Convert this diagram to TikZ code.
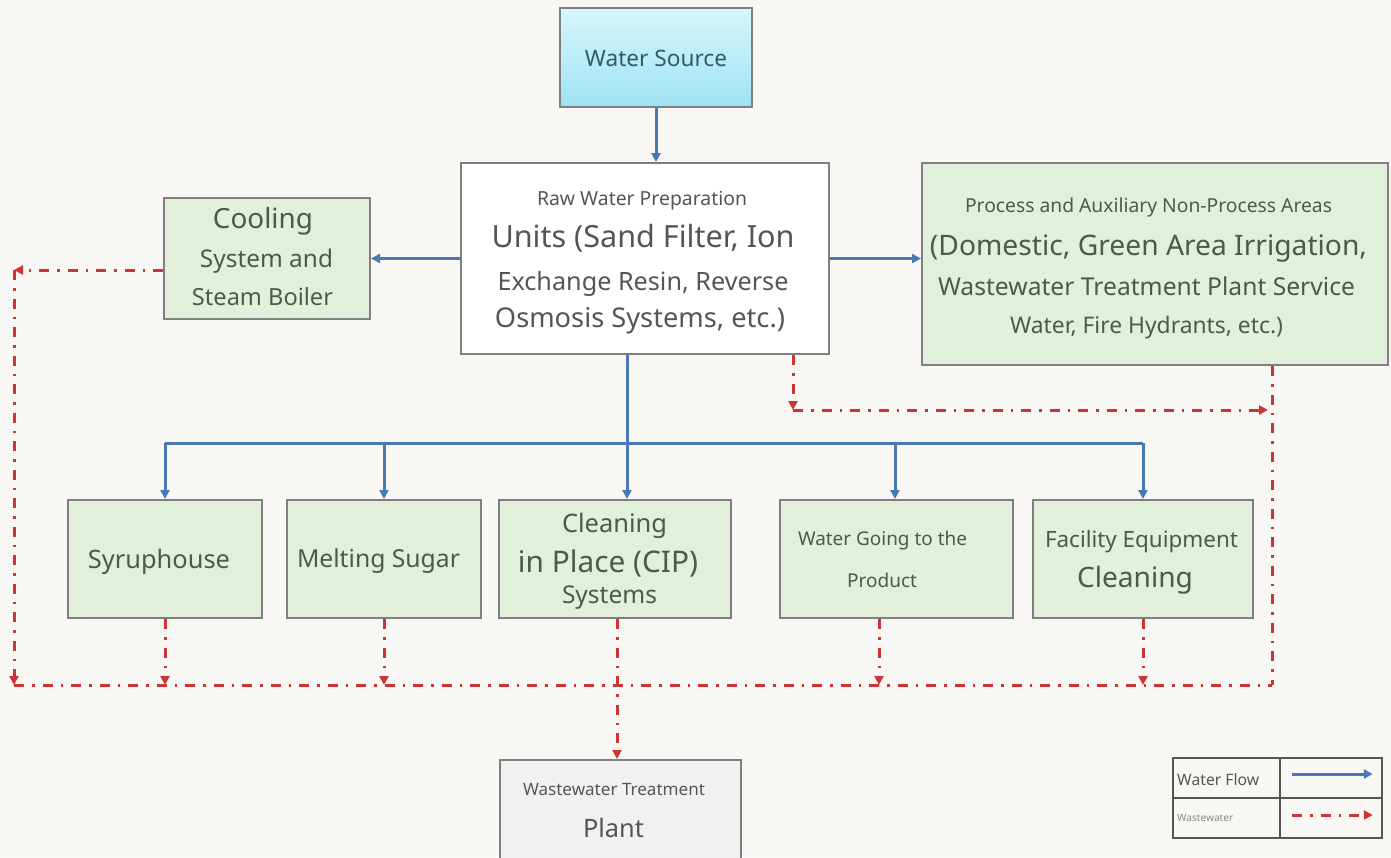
\documentclass[tikz,border=0pt]{standalone}
\usepackage{fontspec}
\setmainfont{Noto Sans}
\usetikzlibrary{arrows.meta}
\definecolor{bg}{HTML}{F8F7F4}
\definecolor{boxgreen}{HTML}{E2EFDA}
\definecolor{edge}{HTML}{7F7F7F}
\definecolor{flowblue}{HTML}{4A78B5}
\definecolor{wastered}{HTML}{CC3535}
\definecolor{txtgreen}{HTML}{4B5B49}
\definecolor{txtgray}{HTML}{555555}
\definecolor{txtlight}{HTML}{8A8A8A}
\definecolor{txtteal}{HTML}{2F5C6B}
\definecolor{srctop}{HTML}{D6F6FC}
\definecolor{srcbot}{HTML}{9FE2F4}
\definecolor{plantfill}{HTML}{F1F1F1}
\newcommand\fw[2]{\resizebox{#1pt}{!}{#2}}
\begin{document}
\begin{tikzpicture}[x=1pt,y=-1pt,
 box/.style={draw=edge, line width=2pt, inner sep=0pt},
 gbox/.style={box, fill=boxgreen},
 txt/.style={anchor=base, inner sep=0pt, text=txtgreen},
 flowline/.style={draw=flowblue, line width=3pt},
 flow/.style={flowline, -{Triangle[length=9pt,width=9pt]}},
 waste/.style={draw=wastered, line width=3pt, dash pattern=on 10pt off 8pt on 2.5pt off 8pt},
 wastearrow/.style={waste, -{Triangle[length=9pt,width=9pt]}},
 legcell/.style={draw=txtgray, line width=1.5pt, inner sep=0pt},
]
\useasboundingbox (0,0) rectangle (1391,857);
\fill[bg] (0,0) rectangle (1391,857);

% boxes
\node[box, top color=srctop, bottom color=srcbot, minimum width=192pt, minimum height=99pt] (src) at (656,57.5) {};
\node[box, fill=white, minimum width=368pt, minimum height=191pt] (raw) at (645,258.5) {};
\node[gbox, minimum width=206pt, minimum height=121pt] (cool) at (267,258.5) {};
\node[gbox, minimum width=466pt, minimum height=202pt] (proc) at (1155,264) {};
\node[gbox, minimum width=194pt, minimum height=118pt] (syr) at (165,559) {};
\node[gbox, minimum width=194pt, minimum height=118pt] (melt) at (384,559) {};
\node[gbox, minimum width=232pt, minimum height=118pt] (cip) at (615,559) {};
\node[gbox, minimum width=233pt, minimum height=118pt] (wgo) at (896.5,559) {};
\node[gbox, minimum width=220pt, minimum height=118pt] (fac) at (1143,559) {};
\node[box, fill=plantfill, minimum width=241pt, minimum height=110pt] (wwtp) at (620.5,815) {};

% texts
\node[txt, text=txtteal] (tsrc) at (656,66) {\fw{142}{Water Source}};
\node[txt, text=txtgray] (traw1) at (642,205) {\fw{210}{Raw Water Preparation}};
\node[txt, text=txtgray] (traw2) at (643,247) {\fw{303}{Units (Sand Filter, Ion}};
\node[txt, text=txtgray] (traw3) at (643,290) {\fw{291}{Exchange Resin, Reverse}};
\node[txt, text=txtgray] (traw4) at (640,327) {\fw{290}{Osmosis Systems, etc.)}};
\node[txt] (tcool1) at (263,228) {\fw{100}{Cooling}};
\node[txt] (tcool2) at (266.5,267) {\fw{133}{System and}};
\node[txt] (tcool3) at (262.5,305) {\fw{141}{Steam Boiler}};
\node[txt] (tproc1) at (1148.5,212) {\fw{367}{Process and Auxiliary Non-Process Areas}};
\node[txt] (tproc2) at (1148.5,255) {\fw{437}{(Domestic, Green Area Irrigation,}};
\node[txt] (tproc3) at (1146.5,295) {\fw{417}{Wastewater Treatment Plant Service}};
\node[txt] (tproc4) at (1146.5,333) {\fw{273}{Water, Fire Hydrants, etc.)}};
\node[txt] (tsyr) at (159,568) {\fw{142}{Syruphouse}};
\node[txt] (tmelt) at (378.5,567) {\fw{163}{Melting Sugar}};
\node[txt] (tcip1) at (614.5,532) {\fw{105}{Cleaning}};
\node[txt] (tcip2) at (608,572) {\fw{180}{in Place (CIP)}};
\node[txt] (tcip3) at (609.5,603) {\fw{95}{Systems}};
\node[txt] (twgo1) at (882.5,545) {\fw{169}{Water Going to the}};
\node[txt] (twgo2) at (882,587) {\fw{70}{Product}};
\node[txt] (tfac1) at (1141.5,547) {\fw{193}{Facility Equipment}};
\node[txt] (tfac2) at (1135,587) {\fw{116}{Cleaning}};
\node[txt, text=txtgray] (tww1) at (614,795) {\fw{182}{Wastewater Treatment}};
\node[txt, text=txtgray] (tww2) at (613.5,837) {\fw{61}{Plant}};

% water flow
\draw[flow] (src.south) -- (src.south |- raw.north);
\draw[flow] (raw.west) -- (cool.east);
\draw[flow] (raw.east) -- (raw.east -| proc.west);
\coordinate (bus) at (627,443);
\coordinate (wgodrop) at (895,443);
\draw[flowline] (bus |- raw.south) -- (bus);
\draw[flowline] (syr.north |- bus) -- (fac.north |- bus);
\draw[flow] (syr.north |- bus) -- (syr.north);
\draw[flow] (melt.north |- bus) -- (melt.north);
\draw[flow] (bus) -- (bus |- cip.north);
\draw[flow] (wgodrop) -- (wgodrop |- wgo.north);
\draw[flow] (fac.north |- bus) -- (fac.north);

% wastewater
\coordinate (lc) at (14,270);
\coordinate (bl) at (14,685);
\coordinate (br) at (1272,685);
\coordinate (rb) at (793,410);
\coordinate (rbe) at (1268,410);
\coordinate (cipd) at (617,618);
\coordinate (wgod) at (879,618);
\draw[wastearrow] (cool.west |- lc) -- (lc);
\draw[wastearrow] (lc) -- (bl);
\draw[waste] (bl) -- (br);
\draw[waste] (br |- proc.south) -- (br);
\draw[wastearrow] (rb |- raw.south) -- (rb);
\draw[wastearrow] (rb) -- (rbe);
\draw[wastearrow] (syr.south) -- (syr.south |- bl);
\draw[wastearrow] (melt.south) -- (melt.south |- bl);
\draw[wastearrow] (cipd |- cip.south) -- (cipd |- wwtp.north);
\draw[wastearrow] (wgod |- wgo.south) -- (wgod |- bl);
\draw[wastearrow] (fac.south) -- (fac.south |- bl);

% legend
\node[legcell, minimum width=107pt, minimum height=40pt] (lgA) at (1226.5,778) {};
\node[legcell, minimum width=102pt, minimum height=40pt] (lgB) at (1331,778) {};
\node[legcell, minimum width=107pt, minimum height=40pt] (lgC) at (1226.5,818) {};
\node[legcell, minimum width=102pt, minimum height=40pt] (lgD) at (1331,818) {};
\node[txt, anchor=base west, text=txtgray] (tlg1) at (1177,785) {\fw{82}{Water Flow}};
\node[txt, anchor=base west, text=txtlight] (tlg2) at (1177,821) {\fw{56}{Wastewater}};
\draw[flow] ([xshift=13pt,yshift=4pt]lgB.west) -- ([xshift=-10pt,yshift=4pt]lgB.east);
\draw[wastearrow] ([xshift=13pt,yshift=3pt]lgD.west) -- ([xshift=-10pt,yshift=3pt]lgD.east);
\end{tikzpicture}
\end{document}
